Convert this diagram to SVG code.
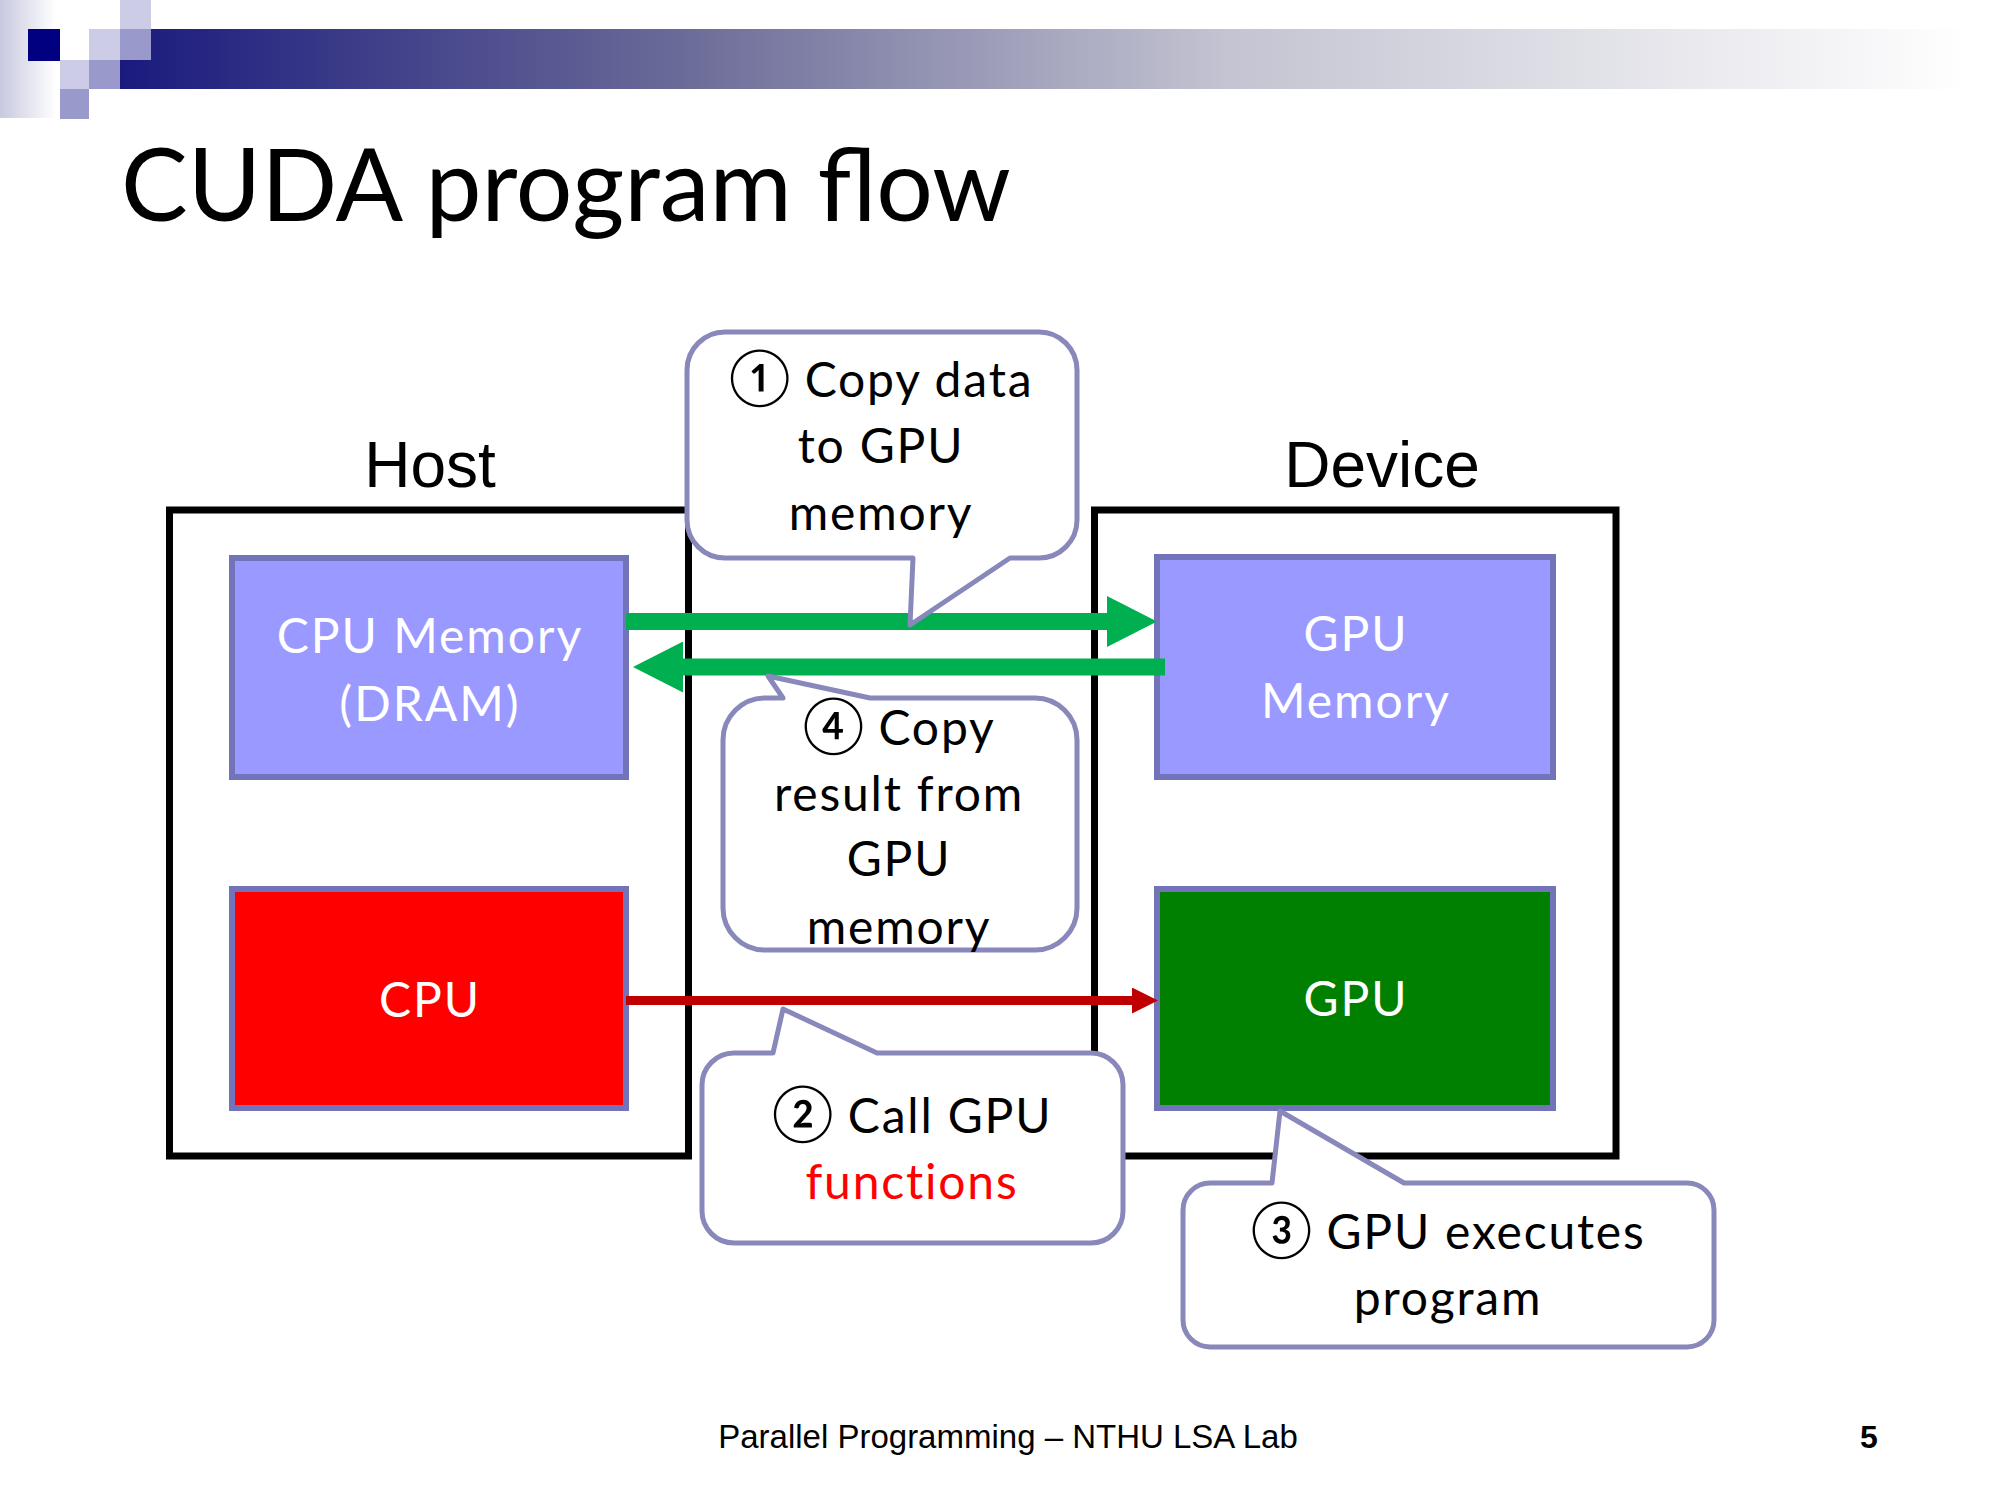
<svg xmlns="http://www.w3.org/2000/svg" width="2000" height="1500" viewBox="0 0 2000 1500">
<style>
.box{stroke:#7373B9;stroke-width:6}
.cont{fill:#FFFFFF;stroke:#000000;stroke-width:7}
.callout{fill:#FFFFFF;stroke:#8888BB;stroke-width:5;stroke-linejoin:round}
.wt{font-family:Lato,"Open Sans",sans-serif;font-size:48px;letter-spacing:2px;fill:#FFFFFF;text-anchor:middle}
.ct{font-family:Lato,"Noto Sans CJK JP",sans-serif;font-size:48px;letter-spacing:1.8px;fill:#000000;text-anchor:middle}
.num{font-size:56px;letter-spacing:0}
.lbl{font-family:"Liberation Sans",Arial,sans-serif;font-size:64px;fill:#000000;text-anchor:middle}
.sq1{fill:#CCCCE6}
.sq2{fill:#9999CC}
</style>
<defs>
<linearGradient id="bar" x1="0" y1="0" x2="1" y2="0">
<stop offset="0" stop-color="#1A1A7E"/>
<stop offset="0.3" stop-color="#6A6A98"/>
<stop offset="0.6" stop-color="#C4C4D2"/>
<stop offset="1" stop-color="#FFFFFF"/>
</linearGradient>
<linearGradient id="strip" x1="0" y1="0" x2="1" y2="0">
<stop offset="0" stop-color="#C8C8E0"/>
<stop offset="1" stop-color="#FFFFFF"/>
</linearGradient>
<marker id="gh" markerUnits="userSpaceOnUse" viewBox="0 0 50 51" refX="0" refY="25.5" markerWidth="50" markerHeight="51" orient="auto">
<path d="M0,0 L50,25.5 L0,51 Z" fill="#00B050"/>
</marker>
<marker id="rh" markerUnits="userSpaceOnUse" viewBox="0 0 26 26" refX="0" refY="13" markerWidth="26" markerHeight="26" orient="auto">
<path d="M0,0 L26,13 L0,26 Z" fill="#C00000"/>
</marker>
</defs>
<rect width="2000" height="1500" fill="#FFFFFF"/>
<g id="header">
<rect x="0" y="0" width="56" height="118" fill="url(#strip)"/>
<rect x="120" y="29" width="1850" height="60" fill="url(#bar)"/>
<rect x="28" y="29" width="32" height="32" fill="#000080"/>
<rect class="sq1" x="120" y="0" width="31" height="29"/>
<rect class="sq1" x="89" y="29" width="31" height="31"/>
<rect class="sq2" x="120" y="29" width="31" height="31"/>
<rect class="sq1" x="60" y="60" width="29" height="29"/>
<rect class="sq2" x="89" y="60" width="31" height="29"/>
<rect class="sq2" x="60" y="89" width="29" height="30"/>
</g>
<text id="title" x="121" y="221" font-family="Lato,'Open Sans',sans-serif" font-size="100" fill="#000000">CUDA program flow</text>
<g id="host">
<rect class="cont" x="169.5" y="510" width="519" height="646"/>
<text class="lbl" x="430" y="487">Host</text>
</g>
<g id="device">
<rect class="cont" x="1094.5" y="510" width="521.5" height="646"/>
<text class="lbl" x="1382" y="487">Device</text>
</g>
<g id="cpu-memory">
<rect class="box" x="232" y="558" width="394" height="219" fill="#9999FF"/>
<text class="wt" x="430" y="653">CPU Memory</text>
<text class="wt" x="430" y="721">(DRAM)</text>
</g>
<g id="cpu">
<rect class="box" x="232" y="889" width="394" height="219" fill="#FF0000"/>
<text class="wt" x="430" y="1017">CPU</text>
</g>
<g id="gpu-memory">
<rect class="box" x="1157" y="557" width="396" height="220" fill="#9999FF"/>
<text class="wt" x="1356" y="651">GPU</text>
<text class="wt" x="1356" y="718">Memory</text>
</g>
<g id="gpu">
<rect class="box" x="1157" y="889" width="396" height="219" fill="#008000"/>
<text class="wt" x="1356" y="1016">GPU</text>
</g>
<g id="connectors">
<line x1="626" y1="621.5" x2="1107" y2="621.5" stroke="#00B050" stroke-width="17" marker-end="url(#gh)"/>
<line x1="1165" y1="667" x2="683" y2="667" stroke="#00B050" stroke-width="17" marker-end="url(#gh)"/>
<line x1="626" y1="1000.5" x2="1132" y2="1000.5" stroke="#C00000" stroke-width="9" marker-end="url(#rh)"/>
</g>
<g id="callout-1">
<path class="callout" d="M725,332 H1039 A38,38 0 0 1 1077,370 V520 A38,38 0 0 1 1039,558 H1010 L910,625 L913,558 H725 A38,38 0 0 1 687,520 V370 A38,38 0 0 1 725,332 Z"/>
<text class="ct" x="881" y="397"><tspan class="num">①</tspan> Copy data</text>
<text class="ct" x="881" y="463">to GPU</text>
<text class="ct" x="881" y="530">memory</text>
</g>
<g id="callout-4">
<path class="callout" d="M765,698 H783 L768,676 L870,698 H1035 A42,42 0 0 1 1077,740 V908 A42,42 0 0 1 1035,950 H765 A42,42 0 0 1 723,908 V740 A42,42 0 0 1 765,698 Z"/>
<text class="ct" x="899" y="745"><tspan class="num">④</tspan> Copy</text>
<text class="ct" x="899" y="811">result from</text>
<text class="ct" x="899" y="876">GPU</text>
<text class="ct" x="899" y="944">memory</text>
</g>
<g id="callout-2">
<path class="callout" d="M734,1053 H773 L783,1009 L877,1053 H1091 A32,32 0 0 1 1123,1085 V1211 A32,32 0 0 1 1091,1243 H734 A32,32 0 0 1 702,1211 V1085 A32,32 0 0 1 734,1053 Z"/>
<text class="ct" x="912" y="1133"><tspan class="num">②</tspan> Call GPU</text>
<text class="ct" x="912" y="1199" style="fill:#FF0000">functions</text>
</g>
<g id="callout-3">
<path class="callout" d="M1210,1183 H1272 L1280,1111 L1404,1183 H1687 A27,27 0 0 1 1714,1210 V1320 A27,27 0 0 1 1687,1347 H1210 A27,27 0 0 1 1183,1320 V1210 A27,27 0 0 1 1210,1183 Z"/>
<text class="ct" x="1448" y="1249"><tspan class="num">③</tspan> GPU executes</text>
<text class="ct" x="1448" y="1315">program</text>
</g>
<g id="footer">
<text x="1008" y="1448" font-family="'Liberation Sans',Arial,sans-serif" font-size="33" fill="#000000" text-anchor="middle">Parallel Programming – NTHU LSA Lab</text>
<text x="1869" y="1448" font-family="'Liberation Sans',Arial,sans-serif" font-size="32" font-weight="bold" fill="#000000" text-anchor="middle">5</text>
</g>
</svg>
